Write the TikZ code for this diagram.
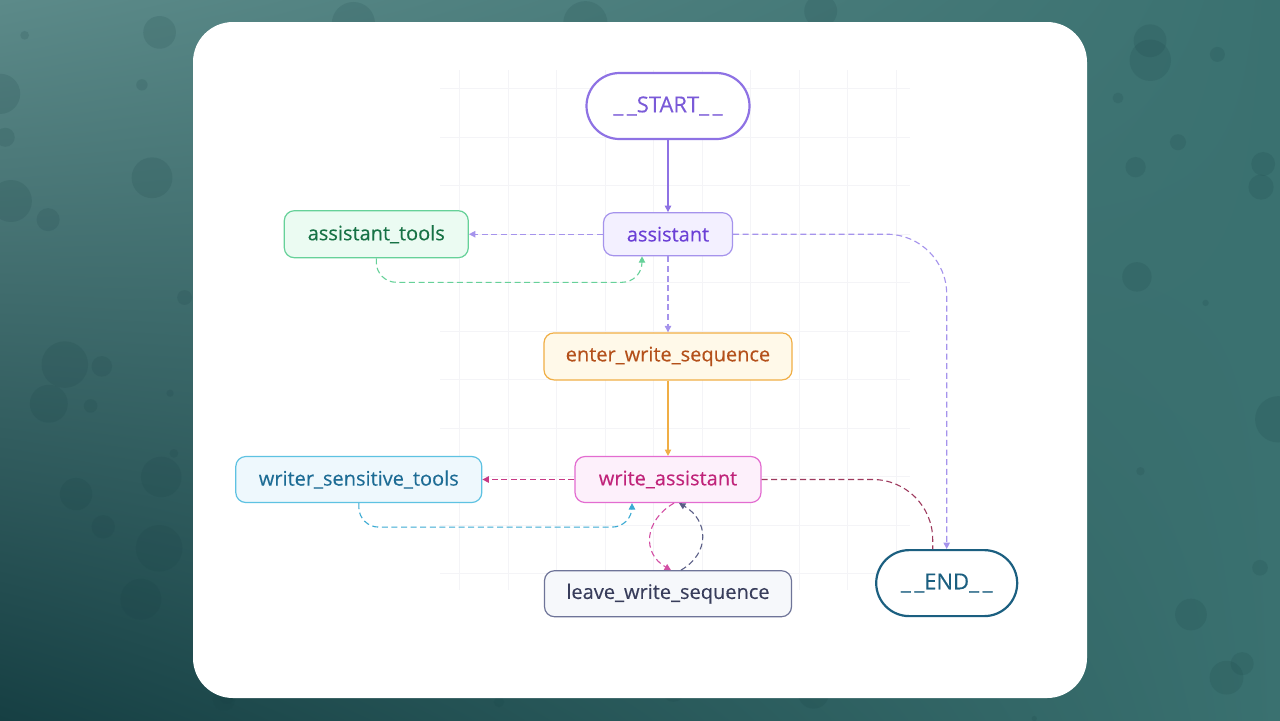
\documentclass[tikz,border=0pt]{standalone}
\usepackage{fontspec}
\setmainfont{Open Sans}
\newfontfamily\nodefont{Open Sans}[FakeBold=0.3]
\usetikzlibrary{arrows.meta, positioning, calc, shadings}

\definecolor{bgtop}{HTML}{5C8A89}
\definecolor{bgmid}{HTML}{3A7170}
\definecolor{bgdark}{HTML}{163F43}
\definecolor{gridline}{HTML}{F4F4F7}
\definecolor{startline}{HTML}{8E72E4}
\definecolor{starttext}{HTML}{7A5AD8}
\definecolor{asstfill}{HTML}{F3F0FF}
\definecolor{asstline}{HTML}{A593EC}
\definecolor{assttext}{HTML}{6B40D6}
\definecolor{toolsfill}{HTML}{EBFBF2}
\definecolor{toolsline}{HTML}{66D199}
\definecolor{toolstext}{HTML}{177245}
\definecolor{enterfill}{HTML}{FFF9E9}
\definecolor{enterline}{HTML}{F0AE45}
\definecolor{entertext}{HTML}{B4501A}
\definecolor{writefill}{HTML}{FDF0FB}
\definecolor{writeline}{HTML}{E36CD0}
\definecolor{writetext}{HTML}{C0247A}
\definecolor{writeedge}{HTML}{C83A85}
\definecolor{endedge}{HTML}{9E3A5E}
\definecolor{writerfill}{HTML}{EEF8FD}
\definecolor{writerline}{HTML}{5EC2E2}
\definecolor{writertext}{HTML}{1D6C95}
\definecolor{writeredge}{HTML}{3BAAD3}
\definecolor{leavefill}{HTML}{F6F8FB}
\definecolor{leaveline}{HTML}{6E7498}
\definecolor{leavetext}{HTML}{383D5B}
\definecolor{loopdark}{HTML}{5A5E86}
\definecolor{looppink}{HTML}{D34FA4}
\definecolor{endline}{HTML}{1B5F80}

\begin{document}
\begin{tikzpicture}[
    x=0.5pt, y=0.5pt,
    every node/.style={font=\nodefont\fontsize{10}{12}\selectfont},
    box/.style={rectangle, draw, rounded corners=5pt, line width=0.6pt, minimum height=23pt, inner sep=2pt, align=center},
    term/.style={box, rounded corners=16.5pt, minimum height=33pt, line width=1.1pt, fill=white, font=\nodefont\fontsize{11}{13}\selectfont},
    flow/.style={-{Triangle[length=3.2pt, width=3.2pt]}, line width=0.55pt},
    cond/.style={flow, dash pattern=on 3pt off 1.8pt}
]
\useasboundingbox (0,0) rectangle (1280,-720);

% backdrop
\shade[upper left=bgtop, upper right=bgmid, lower left=bgdark, lower right=bgmid] (0,0) rectangle (1280,-720);
\pgfmathsetseed{7}
\foreach \i in {1,...,120}{
  \pgfmathsetmacro{\bx}{1280*rnd}
  \pgfmathsetmacro{\by}{-720*rnd}
  \pgfmathsetmacro{\br}{2+22*rnd}
  \fill[bgdark, opacity=0.14] (\bx,\by) circle[radius=\br];
}
\fill[white, rounded corners=20pt] (193,-22) rectangle (1087,-698);

% faint grid
\foreach \gx in {459.5,508,...,896}
  \draw[gridline, line width=0.4pt] (\gx,-70) -- (\gx,-590);
\foreach \gy in {-88.5,-137,...,-575}
  \draw[gridline, line width=0.4pt] (440,\gy) -- (910,\gy);

% nodes
\node[term, draw=startline, text=starttext, minimum width=81.5pt] (start) at (668,-106) {\_\,\_START\_\,\_};
\node[box, fill=asstfill, draw=asstline, text=assttext, minimum width=64.5pt, minimum height=21.5pt, below=36pt of start] (assistant) {assistant};
\node[box, fill=toolsfill, draw=toolsline, text=toolstext, minimum width=92pt, minimum height=23.5pt, left=67pt of assistant] (tools) {assistant\_tools};
\node[box, fill=enterfill, draw=enterline, text=entertext, minimum width=124pt, minimum height=23.5pt, below=38pt of assistant] (enter) {enter\_write\_sequence};
\node[box, fill=writefill, draw=writeline, text=writetext, minimum width=93pt, below=37.7pt of enter] (write) {write\_assistant};
\node[box, fill=writerfill, draw=writerline, text=writertext, minimum width=123pt, left=46pt of write] (writer) {writer\_sensitive\_tools};
\node[box, fill=leavefill, draw=leaveline, text=leavetext, minimum width=123.5pt, below=33.5pt of write] (leave) {leave\_write\_sequence};
\node[term, draw=endline, text=endline, minimum width=70.5pt, right=41.5pt of leave, yshift=5.3pt] (end) {\_\,\_END\_\,\_};

% edges
\draw[flow, startline] (start) -- (assistant);
\draw[cond, asstline] (assistant) -- (tools);
\draw[cond, toolsline, rounded corners=10pt] (tools.south) |- ([shift={(-13pt,-13pt)}]assistant.south) -- ([xshift=-13pt]assistant.south);
\draw[cond, asstline] (assistant) -- (enter);
\draw[cond, asstline, rounded corners=30pt] (assistant) -| (end);
\draw[flow, enterline] (enter) -- (write);
\draw[cond, writeedge] (write) -- (writer);
\draw[cond, writeredge, rounded corners=10pt] (writer.south) |- ([shift={(-18pt,-12pt)}]write.south) -- ([xshift=-18pt]write.south);
\draw[endedge, line width=0.55pt, dash pattern=on 3pt off 1.8pt, rounded corners=30pt] (write) -| ([xshift=-7pt]end.north);
\draw[cond, looppink] ([xshift=3pt]write.south) to[out=-150, in=150, looseness=1.3] ([xshift=1.5pt]leave.north);
\draw[cond, loopdark] ([xshift=6.5pt]leave.north) to[out=30, in=-30, looseness=1.3] ([xshift=5.5pt]write.south);
\end{tikzpicture}
\end{document}
